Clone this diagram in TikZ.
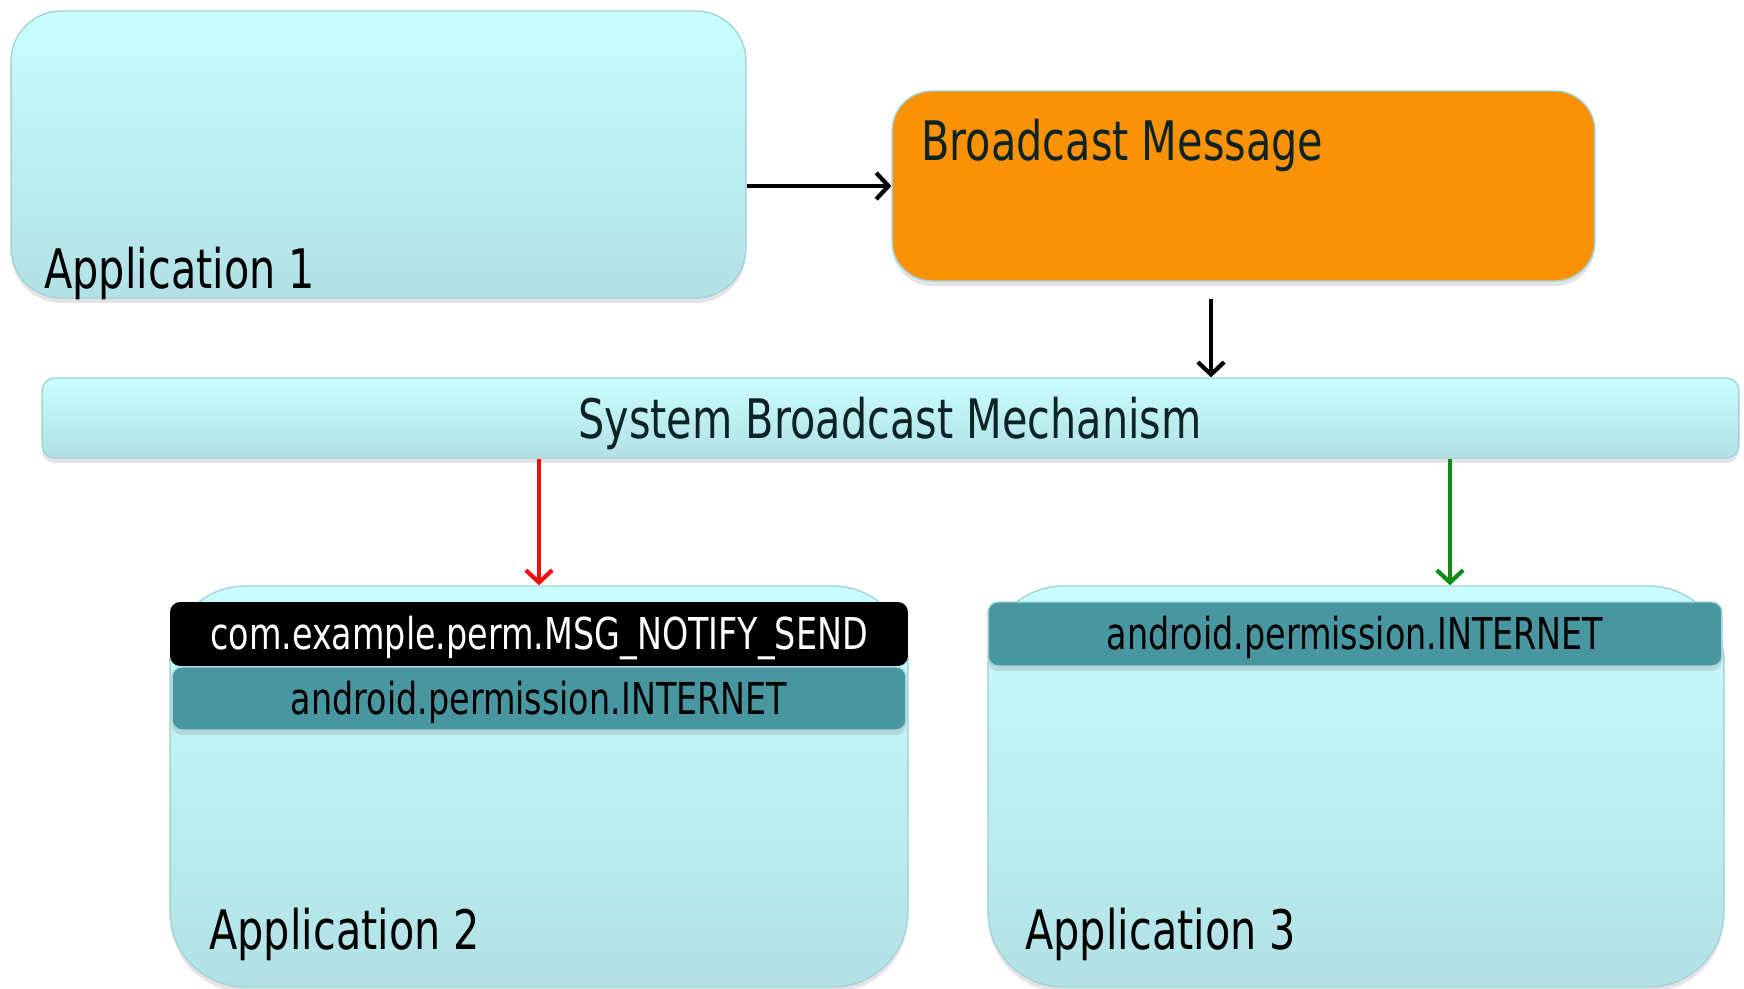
\documentclass[tikz,border=0pt]{standalone}
\usepackage{fontspec}
\setmainfont{DejaVu Sans}[FakeStretch=0.76]
\usetikzlibrary{arrows.meta,shadows}
\definecolor{apptop}{HTML}{C9FDFE}
\definecolor{appbot}{HTML}{B1E1E5}
\definecolor{appline}{HTML}{A3D3DA}
\definecolor{msgfill}{HTML}{FB9104}
\definecolor{permfill}{HTML}{48969F}
\definecolor{textdark}{HTML}{0E2326}
\definecolor{okgreen}{HTML}{138A12}
\definecolor{nored}{HTML}{F01010}
\tikzset{
  softshadow/.style={drop shadow={shadow xshift=0pt,shadow yshift=-0.1cm,opacity=0.22}},
  appbox/.style={draw=appline,line width=0.8pt,top color=apptop,bottom color=appbot,softshadow},
  msgbox/.style={draw=appline,line width=0.8pt,fill=msgfill,softshadow,rounded corners=0.8cm},
  permbar/.style={draw=appline,line width=0.8pt,fill=permfill,softshadow,rounded corners=0.2cm,
    text=black,font=\fontsize{25}{28}\selectfont,text height=0.64cm,text depth=0cm},
  custombar/.style={fill=black,rounded corners=0.2cm,text=white,
    font=\fontsize{25}{28}\selectfont,text height=0.64cm,text depth=0cm},
  biglabel/.style={inner sep=0pt,font=\fontsize{31}{36}\selectfont},
  arr/.style={line width=2.4pt,-{Straight Barb[length=7pt,width=15pt,line width=2.4pt]}}
}
\begin{document}
\begin{tikzpicture}[x=0.02cm,y=-0.02cm]
\useasboundingbox (0,0) rectangle (1744,989);
\node[appbox,rounded corners=1cm,minimum width=14.7cm,minimum height=5.74cm] (app1) at (378.5,154.5) {};
\node[biglabel,anchor=base west,text=black] (app1txt) at (44,289) {Application 1};
\node[msgbox,minimum width=14.06cm,minimum height=3.8cm] (msg) at (1243.5,186) {};
\node[biglabel,anchor=base west,text=textdark] (msgtxt) at (921,161) {Broadcast Message};
\node[appbox,rounded corners=0.25cm,minimum width=33.94cm,minimum height=1.6cm] (sys) at (890.5,418) {};
\node[biglabel,anchor=base,text=textdark] (systxt) at (890,439) {System Broadcast Mechanism};
\node[appbox,rounded corners=1.5cm,minimum width=14.76cm,minimum height=8.02cm] (app2) at (539,786.5) {};
\node[appbox,rounded corners=1.5cm,minimum width=14.72cm,minimum height=8.02cm] (app3) at (1356,786.5) {};
\node[permbar,minimum width=14.68cm,minimum height=1.26cm] (net2) at (539,698.5) {android.permission.INTERNET};
\node[custombar,minimum width=14.76cm,minimum height=1.28cm] (notify) at (539,634) {com.example.perm.MSG\_NOTIFY\_SEND};
\node[permbar,minimum width=14.68cm,minimum height=1.28cm] (net3) at (1355,634) {android.permission.INTERNET};
\node[biglabel,anchor=base west,text=black] (app2txt) at (209,949) {Application 2};
\node[biglabel,anchor=base west,text=black] (app3txt) at (1025,949) {Application 3};
\draw[arr,line width=2.8pt] (app1.east |- msg.west) -- (msg.west);
\draw[arr] ([xshift=-0.65cm,yshift=-0.34cm]msg.south) -- ([xshift=-0.65cm]msg.south |- sys.north);
\draw[arr,draw=nored] (sys.south -| app2.north) -- (app2.north);
\draw[arr,draw=okgreen] ([xshift=1.88cm]app3.north |- sys.south) -- ([xshift=1.88cm]app3.north);
\end{tikzpicture}
\end{document}
